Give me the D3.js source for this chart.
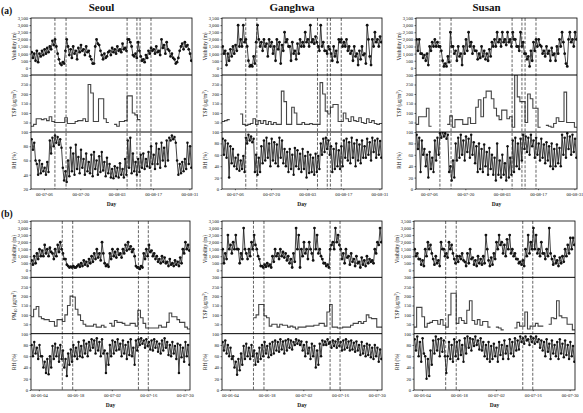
<!DOCTYPE html>
<html>
<head>
<meta charset="utf-8">
<script src="https://cdn.jsdelivr.net/npm/d3@7"></script>
<style>
  html, body { margin: 0; padding: 0; background: #fff; }
  svg { display: block; }
</style>
</head>
<body>
<div id="chart"></div>
<script>
// (a) summer 2000, half-day visibility / RH, daily TSP
var ticksA = ['2000-07-06', '2000-07-20', '2000-08-03', '2000-08-17', '2000-08-31'];
var tickLabelsA = ['00-07-06', '00-07-20', '00-08-03', '00-08-17', '00-08-31'];
var eventsA = ['2000-07-10 05', '2000-07-14 12', '2000-08-07 00', '2000-08-10 19', '2000-08-12 00', '2000-08-16 05'];

var ticksB = ['2000-06-04', '2000-06-18', '2000-07-02', '2000-07-16', '2000-07-30'];
var tickLabelsB = ['00-06-04', '00-06-18', '00-07-02', '00-07-16', '00-07-30'];
var eventsB = ['2000-06-13 00', '2000-06-17 00', '2000-07-12 05', '2000-07-16 00'];

var visTicks = [0, 500, 1000, 1500, 2000, 2500, 3000, 3500];
var pmTicks = [50, 100, 150, 200, 250, 300];
var rhTicks = [0, 20, 40, 60, 80, 100];

var seoulAVis = [1100,700, 1000,500, 1200,400, 1000,800, 1200,900,
  1300,1000, 1400,1100, 1500,1300, 1900,1600, 2000,1500,
  1000,600, 300,200, 400,300, 1200,2000, 1500,900,
  1300,700, 1500,1000, 1200,600, 1400,1100, 1600,1200,
  1300,900, 1500,1100, 1200,800, 600,300, 300,1500,
  2000,1700, 1600,1200, 900,600, 1000,700, 800,1100,
  1200,900, 1400,1100, 1300,1000, 1500,1200, 1300,1100,
  1700,1300, 1400,1200, 2000,2000, 1800,1500, 900,800,
  1000,700, 1800,1200, 800,500, 600,400, 900,700,
  1200,1000, 1400,1200, 1300,1000, 1500,1100, 1200,900,
  2000,1400, 1600,1000, 1800,1300, 1200,800, 1000,700,
  600,300, 400,700, 1200,1500, 1700,1300, 1800,1500,
  1600,1300, 1000,500];
var seoulATsp = [30, 40, 70, 70, 65, 70, 60, 80, 55, 50,
  50, 50, 50, 75, 45, 45, 45, 55, 60, 60,
  70, 55, 250, 205, 55, 55, 175, 175, 70, 50,
  null, null, 40, 30, 55, 55, 60, 190, 190, 100,
  90, 65, null, null, null, null, null, null, null, null,
  null, null, null, null, null, null, null, null, null, null,
  null, null];
var seoulARh = [90,75, 85,60, 55,40, 60,42, 55,45,
  50,40, 58,44, 88,70, 92,80, 95,85,
  93,82, 90,78, 50,32, 45,30, 60,38,
  78,45, 70,40, 82,48, 65,42, 75,50,
  62,40, 70,45, 58,42, 68,38, 72,48,
  60,40, 66,44, 72,46, 58,38, 64,42,
  55,36, 48,35, 52,38, 50,36, 56,40,
  48,36, 62,40, 88,50, 92,42, 70,45,
  58,40, 62,44, 68,50, 70,48, 62,52,
  72,50, 80,55, 68,48, 84,55, 76,50,
  85,60, 78,52, 88,60, 92,88, 95,90,
  93,85, 60,40, 55,42, 58,45, 62,48,
  85,55, 80,50];

var ganghwaAVis = [1500,1000, 1200,200, 1000,500, 1300,800, 1500,1000,
  1600,1200, 3000,1500, 2000,1500, 3000,1800, 2000,1500,
  500,100, 200,100, 800,300, 1800,3000, 2000,1500,
  1800,1200, 2000,1500, 1700,800, 2000,1500, 1800,1000,
  1500,500, 2000,1300, 1800,300, 1600,1200, 2500,1800,
  2000,1500, 1500,500, 1800,1000, 1200,600, 1700,1000,
  2000,1500, 1800,1500, 2500,1800, 2000,1500, 3000,1800,
  2000,1700, 2200,1800, 1500,1200, 3000,1500, 1800,1200,
  1200,1000, 1500,1300, 1000,500, 1500,800, 1200,400,
  2000,1800, 2000,1500, 1800,1500, 2000,1200, 1500,1000,
  1200,500, 1500,800, 1000,200, 1200,600, 1500,900,
  1000,300, 3000,2000, 800,200, 2000,1500, 2500,1800,
  2000,1500, 2200,1800];
var ganghwaATsp = [55, 60, 65, null, null, null, null, 95, 40, 35,
  40, 45, 70, 40, 60, 45, 60, 40, 55, 40,
  50, 40, 40, 215, 160, 40, 40, 130, 100, 40,
  40, 50, 40, 40, 45, 40, 40, 40, 260, 200,
  110, 95, 130, 145, 145, 55, 55, 100, 70, 55,
  80, 60, 55, 75, 50, 45, 70, 50, 60, 45,
  40, 45];
var ganghwaARh = [88,60, 85,55, 80,20, 75,45, 70,40,
  55,35, 60,32, 50,35, 58,30, 90,80,
  95,85, 92,82, 88,30, 60,25, 55,30,
  75,45, 85,50, 90,55, 80,40, 88,50,
  82,45, 78,40, 90,55, 85,45, 70,40,
  65,30, 70,35, 60,25, 72,40, 68,35,
  62,30, 70,35, 58,20, 65,28, 60,30,
  55,25, 62,30, 58,35, 80,60, 88,65,
  90,70, 85,60, 75,30, 70,35, 80,40,
  68,35, 75,40, 85,55, 88,50, 82,45,
  90,55, 80,40, 86,50, 78,45, 85,55,
  75,55, 88,60, 82,50, 90,65, 85,55,
  88,60, 84,55];

var susanAVis = [2000,1200, 2000,1000, 1000,700, 900,500, 1000,200,
  1500,1200, 1800,1500, 2000,1500, 1800,1500, 1500,1200,
  500,100, 300,100, 800,400, 2500,1500, 1500,1000,
  1200,500, 1500,800, 1000,200, 1500,1000, 2000,1200,
  2500,1500, 1800,1000, 1500,1200, 1200,600, 1000,700,
  1500,800, 1200,600, 1000,500, 1300,800, 1800,1500,
  2000,1500, 2500,1800, 2000,1500, 2500,1800, 2000,1600,
  2500,1800, 2000,1500, 2500,2000, 2000,1500, 1500,1200,
  2500,1500, 1800,1000, 1000,600, 800,100, 1200,500,
  1800,1200, 2000,1500, 2000,1600, 1500,1000, 1200,800,
  1500,1000, 1200,500, 1400,900, 1000,500, 1500,1000,
  2000,1500, 2500,1800, 1000,300, 100,2000, 2500,1800,
  2000,1500, 2500,2000];
var susanATsp = [40, 80, 80, 80, 125, 30, null, null, null, null,
  null, null, 40, 85, 25, 65, 65, 65, 40, 40,
  75, 45, 45, 130, 170, 80, 180, 215, 215, 175,
  125, 85, 65, 115, 115, 70, 80, 25, 300, 185,
  160, 160, 50, 200, 175, 125, 125, 25, null, null,
  35, 30, 25, 45, 75, 55, 55, 210, 50, 50,
  50, 25];
var susanARh = [95,70, 90,30, 85,60, 70,40, 60,20,
  65,35, 55,30, 85,50, 90,60, 98,90,
  100,92, 98,88, 95,30, 40,15, 50,20,
  80,50, 90,55, 95,60, 85,50, 92,65,
  88,55, 95,60, 82,45, 75,30, 80,35,
  70,30, 78,40, 65,25, 72,35, 60,25,
  55,15, 80,25, 50,20, 60,25, 45,15,
  75,20, 55,25, 85,30, 90,40, 80,35,
  88,50, 95,70, 92,65, 90,60, 95,75,
  85,55, 90,60, 80,50, 88,55, 78,45,
  82,50, 75,40, 80,35, 70,40, 78,45,
  72,40, 95,60, 90,55, 98,70, 92,60,
  95,65, 88,55];

// (b) June-July 2000
var seoulBVis = [700,400, 1000,500, 1200,800, 1500,1000, 1400,1000,
  1800,1200, 1500,1000, 1600,1300, 1200,800, 1500,1000,
  1800,1300, 2000,1500, 1200,800, 800,400, 300,200,
  250,200, 300,200, 200,300, 400,250, 500,300,
  700,400, 600,300, 800,500, 1000,600, 1200,800,
  1500,900, 1200,700, 2000,1200, 500,300, 400,250,
  1200,800, 1500,1000, 1300,900, 1500,1100, 1200,900,
  1500,1200, 1800,1400, 2000,1500, 1700,1300, 1500,1000,
  300,200, 200,100, 300,200, 1200,800, 1500,1000,
  1800,1300, 1400,1000, 1200,800, 1000,600, 800,500,
  1000,600, 900,500, 600,300, 800,400, 500,300,
  700,400, 600,300, 900,500, 1500,1200, 2000,1500,
  1800,1400];
var seoulBPm = [90, 130, 145, 90, 80, 75, 75, 65, 65, 40,
  75, 75, 65, 100, 150, 200, 195, 130, 100, 70,
  50, 40, 40, 40, 50, 35, 35, 45, 35, null,
  55, 40, 70, 60, 60, 55, 45, 45, 55, 55,
  40, 125, 85, 55, 30, 30, 30, 30, 30, 45,
  35, 35, 60, 110, 90, 90, 75, 60, 60, 35,
  25];
var seoulBRh = [80,60, 85,65, 75,55, 80,60, 60,40,
  50,30, 55,28, 60,40, 78,55, 82,60,
  75,50, 80,55, 70,40, 55,25, 65,45,
  72,50, 80,60, 75,55, 85,60, 78,58,
  88,65, 82,60, 85,70, 90,75, 88,65,
  92,70, 85,60, 90,65, 70,30, 65,45,
  80,60, 88,65, 85,70, 90,72, 82,60,
  88,65, 80,55, 85,62, 90,60, 75,45,
  88,70, 90,80, 92,82, 88,75, 90,78,
  85,72, 88,70, 90,75, 86,68, 82,65,
  88,70, 92,75, 85,62, 80,60, 85,65,
  78,55, 82,30, 80,58, 75,50, 85,60,
  80,45];

var ganghwaBVis = [1500,500, 1200,800, 2500,1500, 1800,1200, 2000,1500,
  2500,1500, 1500,500, 1200,800, 3000,1500, 1200,800,
  1500,1000, 2000,1500, 2500,1800, 1500,1000, 800,300,
  300,200, 400,250, 500,300, 400,200, 1000,600,
  1500,1000, 1200,800, 1500,1000, 1300,900, 1200,700,
  1000,500, 800,200, 1200,600, 3000,1500, 2500,200,
  1500,1000, 2000,1200, 1500,800, 2000,1500, 1200,700,
  3000,1500, 2500,1200, 1500,1000, 800,500, 500,300,
  400,200, 1500,1800, 2000,1500, 3000,2000, 2500,1800,
  1500,800, 1200,500, 1500,900, 1000,400, 1200,600,
  800,300, 1000,500, 600,200, 900,400, 700,300,
  1000,500, 800,600, 700,500, 1500,1200, 2000,1800,
  3000,2000];
var ganghwaBTsp = [null, null, null, null, null, null, null, null, null, null,
  null, null, 85, 100, 155, 155, 95, 85, 40, 50,
  50, 35, 50, 45, 45, 35, 40, 35, 25, 35,
  35, 35, 40, 40, 40, 45, 45, 55, 55, 40,
  115, 155, 35, 35, 30, 30, 35, 35, 35, 45,
  55, 55, 65, 55, 65, 100, 85, 80, 80, 35,
  35];
var ganghwaBRh = [85,70, 88,65, 80,60, 75,55, 60,40,
  50,27, 55,35, 65,45, 78,55, 82,60,
  75,55, 80,60, 70,45, 65,50, 75,55,
  80,60, 85,65, 78,58, 82,62, 85,65,
  88,70, 85,68, 90,72, 86,65, 88,70,
  90,75, 88,72, 85,80, 90,82, 88,80,
  86,70, 80,60, 85,65, 75,55, 82,60,
  78,40, 70,45, 82,60, 88,80, 86,80,
  90,82, 85,75, 88,78, 86,75, 90,78,
  85,70, 88,72, 90,75, 86,70, 88,72,
  84,68, 86,70, 80,62, 85,65, 78,60,
  82,62, 80,58, 75,55, 80,60, 75,50,
  72,55];

var susanBVis = [1500,1000, 1200,800, 800,400, 700,300, 1500,1000,
  2000,1500, 1800,1200, 800,400, 1000,500, 700,300,
  2000,1500, 1500,1000, 1200,900, 2000,1500, 1800,1200,
  800,500, 1000,600, 1000,800, 1200,700, 600,300,
  1200,500, 1500,800, 900,400, 700,300, 1000,500,
  800,400, 1000,500, 2500,1500, 700,300, 900,400,
  1200,800, 2000,1500, 2500,1800, 2000,1200, 1800,1000,
  2200,1500, 2500,1200, 1500,1000, 1200,800, 800,500,
  600,400, 700,300, 1500,1000, 2500,1200, 2000,1500,
  3000,1500, 2500,1200, 1500,1000, 2000,1200, 1200,800,
  1500,1000, 3000,1200, 800,400, 1000,500, 700,300,
  900,500, 1000,600, 1500,1000, 1800,1200, 2300,1500,
  2300,1800];
var susanBTsp = [35, 140, 140, 90, 35, 55, 60, 70, 70, 50,
  75, 45, 35, 100, 215, 215, 55, 85, 70, 55,
  125, 175, 70, 50, 75, 45, 65, 65, 35, null,
  null, 35, 30, 20, null, null, null, null, 30, 60,
  40, 40, 115, 25, 40, 40, 55, 40, 40, null,
  null, 50, 85, 80, 175, 95, 85, 85, 50, 50,
  20];
var susanBRh = [90,70, 95,60, 85,50, 92,65, 60,20,
  55,25, 70,45, 88,65, 95,70, 90,60,
  92,68, 88,60, 30,60, 85,55, 80,50,
  90,60, 85,55, 88,62, 80,50, 92,65,
  95,75, 92,70, 90,78, 95,80, 88,72,
  92,70, 85,60, 80,55, 85,50, 78,55,
  82,60, 75,50, 85,62, 80,55, 88,65,
  78,55, 90,65, 85,60, 92,70, 88,72,
  95,85, 92,82, 95,88, 90,80, 95,85,
  92,82, 95,85, 90,75, 88,70, 85,60,
  90,68, 82,55, 88,65, 80,60, 85,55,
  90,65, 82,58, 88,62, 80,55, 85,60,
  78,50];

var W = 583, H = 413;
var FONT = '"Liberation Serif", "Times New Roman", serif';
var parseDay = d3.utcParse('%Y-%m-%d');
var parseHour = d3.utcParse('%Y-%m-%d %H');
var HOUR = 3600 * 1000;

var svg = d3.select('#chart').append('svg')
    .attr('width', W)
    .attr('height', H)
    .style('font-family', FONT);

var rowsDef = [
    { start: '2000-07-01', end: '2000-09-01', top: 18, bottom: 189, tag: '(a)', tagY: 14,
      ticks: ticksA, tickLabels: tickLabelsA, events: eventsA,
      panels: [
        { title: 'Seoul', left: 31, right: 192, vis: seoulAVis, pm: seoulATsp, pmName: 'TSP', rh: seoulARh, rhMin: 20 },
        { title: 'Ganghwa', left: 222, right: 382, vis: ganghwaAVis, pm: ganghwaATsp, pmName: 'TSP', rh: ganghwaARh, rhMin: 0 },
        { title: 'Susan', left: 416, right: 577, vis: susanAVis, pm: susanATsp, pmName: 'TSP', rh: susanARh, rhMin: 0 }
      ] },
    { start: '2000-06-01', end: '2000-08-01', top: 221, bottom: 390, tag: '(b)', tagY: 217,
      ticks: ticksB, tickLabels: tickLabelsB, events: eventsB,
      panels: [
        { left: 31, right: 190, vis: seoulBVis, pm: seoulBPm, pmName: 'PM10', rh: seoulBRh, rhMin: 0 },
        { left: 222, right: 382, vis: ganghwaBVis, pm: ganghwaBTsp, pmName: 'TSP', rh: ganghwaBRh, rhMin: 0 },
        { left: 414, right: 575, vis: susanBVis, pm: susanBTsp, pmName: 'TSP', rh: susanBRh, rhMin: 0 }
      ] }
];

var clipId = 0;

function styleAxis(g) {
    g.select('.domain').remove();
    g.attr('font-family', FONT).attr('font-size', 4.6);
    g.selectAll('line').attr('stroke', '#000').attr('stroke-width', 0.6);
    g.selectAll('text').attr('fill', '#111');
}

function halfDaySeries(values, t0) {
    return values.map(function(v, i) {
        return { t: new Date(t0.getTime() + (i * 12 + 6) * HOUR), v: v };
    });
}

function stepSeries(values, t0) {
    var pts = [];
    values.forEach(function(v, i) {
        if (v == null) { pts.push({ gap: true }); return; }
        pts.push({ t: new Date(t0.getTime() + i * 24 * HOUR), v: v });
        pts.push({ t: new Date(t0.getTime() + (i + 1) * 24 * HOUR), v: v });
    });
    return pts;
}

function drawPanel(row, p) {
    var t0 = parseDay(row.start), t1 = parseDay(row.end);
    var x = d3.scaleUtc().domain([t0, t1]).range([p.left, p.right]);
    var h3 = (row.bottom - row.top) / 3;
    var yVis = d3.scaleLinear().domain([-500, 3500]).range([row.top + h3, row.top]);
    var yPm = d3.scaleLinear().domain([0, 300]).range([row.top + 2 * h3, row.top + h3]);
    var yRh = d3.scaleLinear().domain([p.rhMin, 100]).range([row.bottom, row.top + 2 * h3]);

    var g = svg.append('g');

    // clip paths for each strip
    var ids = [0, 1, 2].map(function(k) {
        var id = 'clip' + (clipId++);
        svg.append('clipPath').attr('id', id).append('rect')
            .attr('x', p.left).attr('y', row.top + k * h3)
            .attr('width', p.right - p.left).attr('height', h3);
        return id;
    });

    // visibility
    var visData = halfDaySeries(p.vis, t0);
    var visG = g.append('g').attr('clip-path', 'url(#' + ids[0] + ')');
    visG.append('path')
        .datum(visData)
        .attr('fill', 'none')
        .attr('stroke', '#111')
        .attr('stroke-width', 0.8)
        .attr('d', d3.line().x(function(d) { return x(d.t); }).y(function(d) { return yVis(d.v); }));
    visG.selectAll('circle').data(visData).join('circle')
        .attr('cx', function(d) { return x(d.t); })
        .attr('cy', function(d) { return yVis(d.v); })
        .attr('r', 1.4)
        .attr('fill', '#111');

    // TSP / PM10 step line
    var pmG = g.append('g').attr('clip-path', 'url(#' + ids[1] + ')');
    pmG.append('path')
        .datum(stepSeries(p.pm, t0))
        .attr('fill', 'none')
        .attr('stroke', '#444')
        .attr('stroke-width', 1.1)
        .attr('d', d3.line()
            .defined(function(d) { return !d.gap; })
            .x(function(d) { return x(d.t); })
            .y(function(d) { return yPm(d.v); }));

    // RH
    var rhData = halfDaySeries(p.rh, t0);
    var rhG = g.append('g').attr('clip-path', 'url(#' + ids[2] + ')');
    rhG.append('path')
        .datum(rhData)
        .attr('fill', 'none')
        .attr('stroke', '#111')
        .attr('stroke-width', 0.8)
        .attr('d', d3.line().x(function(d) { return x(d.t); }).y(function(d) { return yRh(d.v); }));
    rhG.selectAll('circle').data(rhData).join('circle')
        .attr('cx', function(d) { return x(d.t); })
        .attr('cy', function(d) { return yRh(d.v); })
        .attr('r', 1.25)
        .attr('fill', '#111');

    // event lines
    g.selectAll('.event').data(row.events.map(function(s) { return parseHour(s); }))
        .join('line')
        .attr('x1', function(d) { return x(d); })
        .attr('x2', function(d) { return x(d); })
        .attr('y1', row.top)
        .attr('y2', row.bottom)
        .attr('stroke', '#222')
        .attr('stroke-width', 0.7)
        .attr('stroke-dasharray', '3,1.6');

    // frame + strip separators
    g.append('rect')
        .attr('x', p.left).attr('y', row.top)
        .attr('width', p.right - p.left).attr('height', row.bottom - row.top)
        .attr('fill', 'none').attr('stroke', '#000').attr('stroke-width', 0.8);
    [1, 2].forEach(function(k) {
        g.append('line')
            .attr('x1', p.left).attr('x2', p.right)
            .attr('y1', row.top + k * h3).attr('y2', row.top + k * h3)
            .attr('stroke', '#000').attr('stroke-width', 1);
    });

    // axes
    g.append('g').attr('transform', 'translate(' + p.left + ',0)')
        .call(d3.axisLeft(yVis).tickValues(visTicks).tickSize(1.5).tickPadding(1.5))
        .call(styleAxis);
    g.append('g').attr('transform', 'translate(' + p.left + ',0)')
        .call(d3.axisLeft(yPm).tickValues(pmTicks).tickSize(1.5).tickPadding(1.5))
        .call(styleAxis);
    g.append('g').attr('transform', 'translate(' + p.left + ',0)')
        .call(d3.axisLeft(yRh).tickValues(rhTicks.filter(function(v) { return v >= p.rhMin; }))
            .tickSize(1.5).tickPadding(1.5))
        .call(styleAxis);
    var tickDates = row.ticks.map(function(s) { return parseDay(s); });
    g.append('g').attr('transform', 'translate(0,' + row.bottom + ')')
        .call(d3.axisBottom(x).tickValues(tickDates)
            .tickFormat(function(d, i) { return row.tickLabels[i]; })
            .tickSize(1.2).tickPadding(2.5))
        .call(styleAxis);

    // axis titles
    var lx = p.left - 15;
    function yTitle(cy, build) {
        var t = g.append('text')
            .attr('transform', 'translate(' + lx + ',' + cy + ') rotate(-90)')
            .attr('text-anchor', 'middle')
            .attr('font-size', 5.2)
            .attr('fill', '#111');
        build(t);
    }
    yTitle(row.top + h3 / 2, function(t) { t.text('Visibility (m)'); });
    yTitle(row.top + 1.5 * h3, function(t) {
        if (p.pmName === 'PM10') {
            t.append('tspan').text('PM');
            t.append('tspan').attr('font-size', 3.8).attr('dy', 1.2).text('10');
            t.append('tspan').attr('dy', -1.2).text(' (\u03bcg/m');
        } else {
            t.append('tspan').text('TSP (\u03bcg/m');
        }
        t.append('tspan').attr('font-size', 3.8).attr('dy', -1.8).text('3');
        t.append('tspan').attr('dy', 1.8).text(')');
    });
    yTitle(row.top + 2.5 * h3, function(t) { t.text('RH (%)'); });

    g.append('text')
        .attr('x', (p.left + p.right) / 2)
        .attr('y', row.bottom + 17)
        .attr('text-anchor', 'middle')
        .attr('font-size', 5.5)
        .attr('font-weight', 'bold')
        .attr('fill', '#111')
        .text('Day');

    if (p.title) {
        svg.append('text')
            .attr('x', (p.left + p.right) / 2 - 10)
            .attr('y', 11)
            .attr('text-anchor', 'middle')
            .attr('font-size', 11)
            .attr('font-weight', 'bold')
            .attr('fill', '#111')
            .text(p.title);
    }
}

rowsDef.forEach(function(row) {
    svg.append('text')
        .attr('x', 1)
        .attr('y', row.tagY)
        .attr('font-size', 9.5)
        .attr('font-weight', 'bold')
        .attr('fill', '#111')
        .text(row.tag);
    row.panels.forEach(function(p) { drawPanel(row, p); });
});
</script>
</body>
</html>
